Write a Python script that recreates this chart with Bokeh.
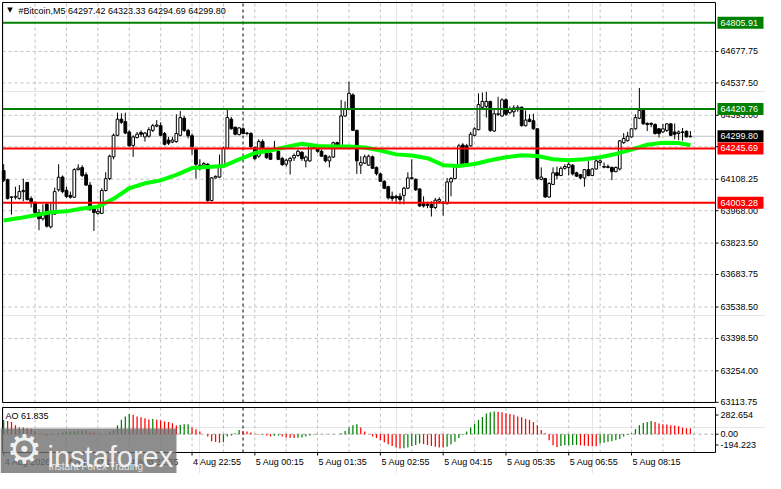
from bokeh.plotting import figure
from bokeh.models import Range1d
from bokeh.core.properties import value
from bokeh.embed import file_html
from bokeh.resources import INLINE

# ---------------- data ----------------
opens = [
    64147, 64106, 64029, 64028, 64022, 64053, 64094, 64022, 64003, 63960,
    63932, 63996, 63896, 63953, 64061, 64118, 64059, 64036, 64028, 64151,
    64160, 64128, 64082, 63975, 63956, 63956, 64058, 64111, 64208, 64304,
    64376, 64365, 64319, 64259, 64294, 64316, 64297, 64300, 64326, 64345,
    64347, 64312, 64283, 64274, 64276, 64304, 64380, 64326, 64302, 64240,
    64171, 64171, 64175, 64013, 64114, 64118, 64168, 64247, 64376, 64340,
    64307, 64333, 64314, 64312, 64250, 64211, 64276, 64240, 64223, 64247,
    64233, 64201, 64175, 64190, 64203, 64214, 64228, 64190, 64190, 64251,
    64254, 64233, 64214, 64190, 64207, 64271, 64257, 64390, 64419, 64484,
    64326, 64171, 64180, 64171, 64208, 64161, 64132, 64099, 64075, 64032,
    64032, 64032, 64036, 64068, 64111, 64108, 64065, 63999, 63996, 63996,
    63982, 64010, 64006, 63999, 64096, 64111, 64165, 64261, 64257, 64257,
    64304, 64329, 64429, 64433, 64455, 64323, 64398, 64390, 64462, 64405,
    64409, 64423, 64429, 64347, 64376, 64369, 64333, 64108, 64111, 64029,
    64085, 64137, 64125, 64157, 64161, 64171, 64137, 64128, 64114, 64151,
    64125, 64154, 64183, 64165, 64164, 64161, 64142, 64154, 64271, 64280,
    64297, 64333, 64380, 64415, 64357, 64357, 64352, 64333, 64319, 64326,
    64355, 64319, 64312, 64319, 64322, 64297.42]
highs = [
    64175, 64111, 64032, 64075, 64082, 64111, 64096, 64032, 64010, 63975,
    63996, 64003, 64000, 64071, 64175, 64125, 64075, 64053, 64157, 64175,
    64171, 64139, 64096, 63982, 63975, 64068, 64139, 64218, 64312, 64405,
    64402, 64405, 64326, 64304, 64319, 64326, 64319, 64340, 64355, 64372,
    64362, 64319, 64297, 64297, 64398, 64412, 64390, 64333, 64312, 64247,
    64197, 64185, 64180, 64118, 64125, 64218, 64254, 64419, 64386, 64343,
    64340, 64340, 64319, 64319, 64254, 64286, 64286, 64247, 64233, 64279,
    64240, 64208, 64200, 64208, 64223, 64240, 64234, 64214, 64261, 64261,
    64257, 64240, 64218, 64214, 64276, 64276, 64462, 64455, 64544, 64491,
    64329, 64211, 64218, 64218, 64214, 64165, 64137, 64104, 64079, 64053,
    64039, 64046, 64075, 64139, 64197, 64111, 64068, 64032, 64008, 64010,
    64025, 64028, 64010, 64114, 64118, 64175, 64266, 64269, 64266, 64319,
    64340, 64491, 64495, 64498, 64458, 64419, 64476, 64469, 64469, 64433,
    64438, 64438, 64433, 64415, 64398, 64400, 64336, 64161, 64114, 64096,
    64161, 64165, 64165, 64175, 64183, 64175, 64142, 64132, 64154, 64190,
    64157, 64197, 64197, 64183, 64174, 64165, 64165, 64283, 64314, 64319,
    64337, 64398, 64515, 64419, 64362, 64362, 64357, 64337, 64355, 64357,
    64357, 64357, 64326, 64337, 64326, 64323.33]
lows = [
    64096, 64018, 63950, 64018, 64018, 64010, 64013, 63982, 63939, 63881,
    63924, 63893, 63889, 63950, 64053, 64046, 64025, 64022, 64025, 64147,
    64118, 64079, 63967, 63878, 63950, 63953, 64053, 64104, 64197, 64300,
    64355, 64309, 64254, 64208, 64290, 64297, 64276, 64294, 64319, 64340,
    64300, 64259, 64261, 64269, 64271, 64300, 64319, 64290, 64218, 64111,
    64147, 64165, 64008, 64010, 64111, 64114, 64165, 64243, 64329, 64304,
    64304, 64309, 64304, 64247, 64193, 64204, 64240, 64200, 64194, 64233,
    64193, 64168, 64165, 64129, 64190, 64208, 64190, 64161, 64185, 64244,
    64226, 64208, 64183, 64161, 64203, 64250, 64254, 64386, 64415, 64323,
    64132, 64132, 64176, 64168, 64154, 64125, 64096, 64064, 64018, 64010,
    63999, 63996, 63996, 64064, 64108, 64056, 63985, 63982, 63979, 63942,
    63975, 63999, 63946, 63996, 64032, 64108, 64161, 64171, 64171, 64254,
    64300, 64326, 64423, 64383, 64319, 64319, 64390, 64386, 64390, 64398,
    64386, 64409, 64343, 64343, 64362, 64329, 64104, 64104, 64025, 64025,
    64082, 64108, 64122, 64151, 64125, 64125, 64118, 64108, 64075, 64121,
    64122, 64151, 64168, 64157, 64157, 64104, 64139, 64147, 64266, 64276,
    64294, 64329, 64376, 64352, 64323, 64340, 64307, 64294, 64314, 64319,
    64300, 64286, 64283, 64280, 64294, 64294.69]
closes = [
    64104, 64022, 64028, 64032, 64053, 64058, 64018, 64008, 63960, 63932,
    63956, 63899, 63960, 64053, 64117, 64053, 64031, 64028, 64151, 64158,
    64125, 64082, 63975, 63960, 63965, 64058, 64111, 64211, 64304, 64376,
    64362, 64314, 64257, 64297, 64309, 64309, 64314, 64329, 64347, 64350,
    64304, 64264, 64269, 64283, 64312, 64383, 64326, 64302, 64254, 64175,
    64168, 64178, 64013, 64114, 64121, 64171, 64247, 64383, 64333, 64309,
    64337, 64312, 64312, 64254, 64200, 64276, 64247, 64204, 64197, 64244,
    64197, 64173, 64193, 64201, 64214, 64233, 64200, 64207, 64254, 64257,
    64233, 64211, 64190, 64207, 64271, 64254, 64390, 64419, 64491, 64326,
    64190, 64183, 64208, 64211, 64157, 64133, 64099, 64068, 64025, 64022,
    64025, 64018, 64068, 64114, 64115, 64061, 63989, 63989, 63992, 63982,
    64015, 64018, 64002, 64096, 64111, 64168, 64257, 64175, 64180, 64309,
    64333, 64441, 64455, 64455, 64326, 64400, 64400, 64462, 64398, 64419,
    64426, 64429, 64347, 64372, 64366, 64333, 64111, 64118, 64029, 64089,
    64137, 64125, 64157, 64165, 64175, 64132, 64122, 64114, 64151, 64125,
    64154, 64190, 64190, 64162, 64161, 64142, 64161, 64279, 64290, 64300,
    64333, 64383, 64415, 64355, 64352, 64353, 64312, 64312, 64333, 64355,
    64304, 64309, 64319, 64317, 64297, 64299.80]

# moving average, read every 4th bar
ma_bars = [0, 4, 8, 12, 16, 20, 24, 28, 32, 36, 40, 44, 48, 52, 56, 60, 64, 68,
           72, 76, 80, 84, 88, 92, 96, 100, 104, 108, 112, 116, 120, 124, 128,
           132, 136, 140, 144, 148, 152, 156, 160, 164, 168, 172, 175]
ma_values = [63924, 63935, 63948, 63961, 63965, 63978, 63986, 64021, 64068, 64090,
             64103, 64128, 64158, 64163, 64167, 64197, 64225, 64236, 64252, 64266,
             64256, 64254, 64254, 64250, 64236, 64219, 64214, 64202, 64171, 64167,
             64176, 64193, 64206, 64215, 64212, 64197, 64193, 64197, 64206, 64221,
             64240, 64262, 64271, 64270, 64260]

ao_values = [
    150, 139, 128, 95, 70, 72, 62, 58, 27, 3,
    -7, -14, -10, -5, 8, 18, 24, 27, 30, 37,
    44, 37, 27, 17, 3, -7, 0, 27, 44, 95,
    152, 186, 213, 206, 186, 179, 169, 155, 162, 152,
    145, 135, 128, 115, 93, 96, 105, 106, 71, 51,
    27, 0, -24, -74, -84, -91, -85, -24, -14, 10,
    44, 34, 27, 17, 3, -7, -5, -14, -24, -17,
    -14, -24, -34, -37, -41, -37, -34, -24, -14, -7,
    -2, 2, 3, 2, 1, 0, 10, 34, 71, 95,
    105, 71, 27, 3, -24, -41, -64, -85, -108, -125,
    -142, -152, -150, -142, -125, -115, -98, -105, -115, -125,
    -132, -140, -142, -132, -108, -81, -41, -10, 27, 71,
    112, 152, 182, 220, 233, 240, 238, 233, 223, 213,
    206, 186, 179, 162, 152, 128, 95, 44, 10, -64,
    -118, -135, -125, -118, -117, -115, -114, -118, -122, -125,
    -127, -129, -98, -91, -81, -74, -64, -51, -24, -7,
    10, 54, 95, 118, 128, 139, 128, 112, 105, 103,
    95, 93, 84, 71, 63, 61.835]

price_ticks = [63113.75, 63254.00, 63398.50, 63538.50, 63683.75, 63823.50,
               63968.00, 64108.25, 64253.25, 64393.00, 64537.50, 64677.75]
time_label_bars = [0, 16, 32, 48, 64, 80, 96, 112, 128, 144, 160]
time_labels = ["4 Aug 2026", "4 Aug 20:15", "4 Aug 21:35", "4 Aug 22:55",
               "5 Aug 00:15", "5 Aug 01:35", "5 Aug 02:55", "5 Aug 04:15",
               "5 Aug 05:35", "5 Aug 06:55", "5 Aug 08:15"]
grid_bars = list(range(8, 184, 8))
day_separator_bar = 61
green_levels = [64805.91, 64420.76]
red_levels = [64245.69, 64003.28]
last_price = 64299.80
ao_max, ao_min = 282.654, -194.223
ao_label_texts = ["282.654", "0.00", "-194.223"]
title_text = "#Bitcoin,M5  64297.42 64323.33 64294.69 64299.80"
ao_title = "AO 61.835"
brand = "instaforex"
brand_sub = "Instant Forex Trading"

# ---------------- layout helpers (pane geometry only) ----------------
FONT = value("Liberation Sans")
FS = value("9px")
W, H = 765, 473
X0, X1 = -0.3, 181.4                    # bar range of the panes
PXB = 713 / (X1 - X0)                   # pixels per bar
P_TOP, P_BOT = 64896.0, 63113.0         # price pane range (canvas rows 2..402)
PP = (P_TOP - P_BOT) / 400.0
A_TOP, A_BOT = ao_max, ao_min           # AO pane range (canvas rows 407..452)
AP = (A_TOP - A_BOT) / 45.0


def bx(px):
    return px / PXB


def cx(c):
    return X0 + bx(c - 2)


def py(c):
    return P_TOP - (c - 2) * PP


def ay(c):
    return A_TOP - (c - 407) * AP


p = figure(width=W, height=H, x_range=Range1d(cx(0), cx(W)),
           y_range=Range1d(py(H), py(0)), output_backend="svg",
           toolbar_location=None, x_axis_location=None, y_axis_location=None,
           min_border=0, min_border_left=0, min_border_right=0,
           min_border_top=0, min_border_bottom=0)
p.outline_line_color = None
p.background_fill_color = "white"
p.border_fill_color = "white"
p.extra_y_ranges = {"ao": Range1d(ay(H), ay(0))}

GRID = "#C0C0C0"
n = len(closes)
idx = list(range(n))
ng = len(grid_bars)

# ---- price pane grid ----
p.segment(x0=grid_bars, y0=[P_BOT] * ng, x1=grid_bars, y1=[P_TOP] * ng,
          line_color=GRID, line_dash="3 3", line_width=1)
p.segment(x0=[X0] * len(price_ticks), y0=price_ticks, x1=[X1] * len(price_ticks),
          y1=price_ticks, line_color=GRID, line_dash="3 3", line_width=1)
p.segment(x0=[X0], y0=[last_price], x1=[X1], y1=[last_price], line_color="#C0C0C0",
          line_width=1)
p.segment(x0=[day_separator_bar], y0=[P_BOT], x1=[day_separator_bar], y1=[P_TOP],
          line_color="black", line_dash="3 3", line_width=1)

# ---- candles ----
up = [c >= o for o, c in zip(opens, closes)]
tops = [max(o, c) for o, c in zip(opens, closes)]
bots = [min(o, c) for o, c in zip(opens, closes)]
p.segment(x0=idx, y0=highs, x1=idx, y1=lows, line_color="black", line_width=1)
p.vbar(x=idx, top=tops, bottom=bots, width=0.7, line_color="black", line_width=1,
       fill_color=["white" if u else "black" for u in up])

# ---- moving average ----
p.line(ma_bars, ma_values, line_color="#00FF00", line_width=4)

# ---- horizontal levels ----
p.segment(x0=[X0] * 2, y0=green_levels, x1=[X1] * 2, y1=green_levels,
          line_color="#008000", line_width=2)
p.segment(x0=[X0] * 2, y0=red_levels, x1=[X1] * 2, y1=red_levels,
          line_color="#FF0000", line_width=2)

# ---- pane frame ----
p.quad(left=[X0], right=[X1], top=[P_TOP], bottom=[P_BOT], fill_color=None,
       line_color="black", line_width=1)

# ---- price scale ----
p.segment(x0=[X1] * len(price_ticks), y0=price_ticks,
          x1=[X1 + bx(3)] * len(price_ticks), y1=price_ticks,
          line_color="black", line_width=1)
p.text(x=[X1 + bx(5)] * len(price_ticks), y=price_ticks,
       text=["%.2f" % t for t in price_ticks], text_font=FONT, text_font_size=FS,
       text_color="black", text_align="left", text_baseline="middle")

box_vals = [green_levels[0], green_levels[1], last_price, red_levels[0], red_levels[1]]
box_cols = ["#008000", "#008000", "black", "#FF0000", "#FF0000"]
p.rect(x=[X1 + bx(25)] * 5, y=box_vals, width=46, height=12, width_units="screen",
       height_units="screen", fill_color=box_cols, line_color=None)
p.text(x=[X1 + bx(5)] * 5, y=box_vals, text=["%.2f" % v for v in box_vals],
       text_font=FONT, text_font_size=FS, text_color="white", text_align="left",
       text_baseline="middle")

# ---- title ----
p.text(x=[cx(9.5)], y=[py(9.5)], text=["\u25bc"], text_font=value("DejaVu Sans"),
       text_font_size=value("7px"), text_color="black", text_align="center",
       text_baseline="middle")
p.text(x=[cx(18)], y=[py(10)], text=[title_text], text_font=FONT, text_font_size=FS,
       text_color="black", text_align="left", text_baseline="middle")

# ---------------- AO pane ----------------
p.segment(x0=grid_bars, y0=[A_BOT] * ng, x1=grid_bars, y1=[A_TOP] * ng,
          line_color=GRID, line_dash="3 3", line_width=1, y_range_name="ao")
p.segment(x0=[X0], y0=[0], x1=[X1], y1=[0], line_color="#A8A8A8", line_dash="3 3",
          line_width=1, y_range_name="ao")
p.segment(x0=[day_separator_bar], y0=[A_BOT], x1=[day_separator_bar], y1=[A_TOP],
          line_color="black", line_dash="3 3", line_width=1, y_range_name="ao")
ao_colors = ["#008000"] + ["#008000" if ao_values[i] > ao_values[i - 1] else "#FF0000"
                           for i in range(1, n)]
p.vbar(x=idx, top=ao_values, bottom=0, width=0.32, fill_color=ao_colors,
       line_color=None, y_range_name="ao")
p.quad(left=[X0], right=[X1], top=[A_TOP], bottom=[A_BOT], fill_color=None,
       line_color="black", line_width=1, y_range_name="ao")
p.text(x=[cx(5)], y=[ay(415)], text=[ao_title], text_font=FONT, text_font_size=FS,
       text_color="black", text_align="left", text_baseline="middle", y_range_name="ao")

ao_label_pos = [ay(414.5), 0.0, ay(444.5)]
p.segment(x0=[X1] * 3, y0=ao_label_pos, x1=[X1 + bx(3)] * 3, y1=ao_label_pos,
          line_color="black", line_width=1, y_range_name="ao")
p.text(x=[X1 + bx(5)] * 3, y=ao_label_pos, text=ao_label_texts, text_font=FONT,
       text_font_size=FS, text_color="black", text_align="left",
       text_baseline="middle", y_range_name="ao")

# ---- time scale ----
nt = len(time_label_bars)
p.segment(x0=time_label_bars, y0=[A_BOT] * nt, x1=time_label_bars,
          y1=[A_BOT - 3 * AP] * nt, line_color="black", line_width=1, y_range_name="ao")
p.text(x=time_label_bars, y=[A_BOT] * nt, text=time_labels, x_offset=1, y_offset=4,
       text_font=FONT, text_font_size=FS, text_color="black", text_align="left",
       text_baseline="top", y_range_name="ao")

# ---- watermark ----
p.quad(left=[cx(0)], right=[cx(176)], top=[ay(428)], bottom=[ay(H)],
       fill_color="#707070", fill_alpha=0.8, line_color=None, y_range_name="ao")
p.text(x=[cx(24)], y=[ay(448)], text=["\u2699"], text_font=value("DejaVu Sans"),
       text_font_size=value("40px"), text_color="white", text_alpha=0.9,
       text_align="center", text_baseline="middle", y_range_name="ao")
p.text(x=[cx(47)], y=[ay(456)], text=[brand], text_font=FONT,
       text_font_size=value("29px"), text_color="white", text_alpha=0.9,
       text_align="left", text_baseline="alphabetic", y_range_name="ao")
p.text(x=[cx(48)], y=[ay(466)], text=[brand_sub], text_font=FONT,
       text_font_size=value("10px"), text_color="#F0F0F0", text_alpha=0.9,
       text_align="left", text_baseline="middle", y_range_name="ao")

open("out.html", "w").write(file_html(p, INLINE))
